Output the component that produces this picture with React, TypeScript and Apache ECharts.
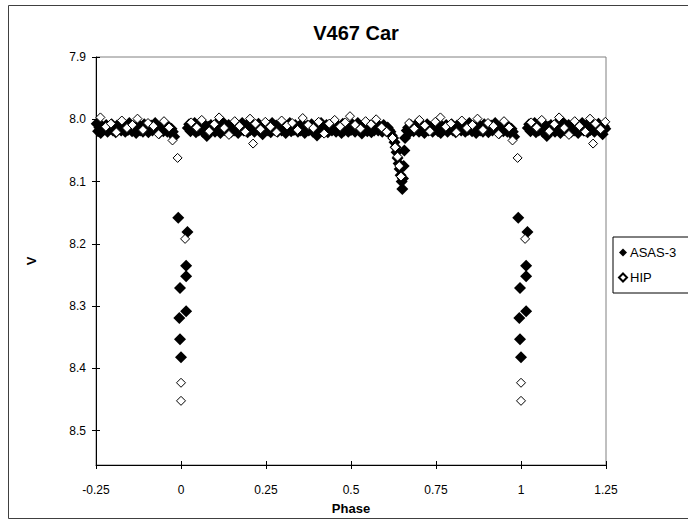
import React, { useEffect, useRef } from "react";
import * as echarts from "echarts";

const chartTitle = "V467 Car";
const xTitle = "Phase";
const yTitle = "V";
const seriesNames = ["ASAS-3", "HIP"];

// base phase (0..1) and V magnitude, ASAS-3
const asasPoints: [number, number][] = [
  [0.020, 8.014], [0.024, 8.008], [0.028, 8.019], [0.032, 8.011], [0.036, 8.016], [0.040, 8.006], [0.044, 8.021], [0.048, 8.013], [0.052, 8.018], [0.056, 8.010],
  [0.060, 8.015], [0.064, 8.020], [0.068, 8.008], [0.072, 8.014], [0.076, 8.027], [0.080, 8.012], [0.084, 8.018], [0.088, 8.009], [0.092, 8.017], [0.096, 8.013],
  [0.100, 8.020], [0.104, 8.007], [0.108, 8.015], [0.112, 8.011], [0.116, 8.022], [0.120, 8.013], [0.124, 8.005], [0.128, 8.017], [0.132, 8.014], [0.136, 8.019],
  [0.140, 8.009], [0.144, 8.015], [0.148, 8.020], [0.152, 8.011], [0.156, 8.018], [0.160, 8.008], [0.164, 8.013], [0.168, 8.022], [0.172, 8.012], [0.176, 8.016],
  [0.180, 8.006], [0.184, 8.018], [0.188, 8.014], [0.192, 8.010], [0.196, 8.021], [0.200, 8.013], [0.204, 8.017], [0.208, 8.008], [0.212, 8.015], [0.216, 8.020],
  [0.220, 8.011], [0.224, 8.016], [0.228, 8.007], [0.232, 8.019], [0.236, 8.013], [0.240, 8.024], [0.244, 8.011], [0.248, 8.015], [0.252, 8.009], [0.256, 8.018],
  [0.260, 8.014], [0.264, 8.021], [0.268, 8.006], [0.272, 8.013], [0.276, 8.017], [0.280, 8.010], [0.284, 8.020], [0.288, 8.015], [0.292, 8.008], [0.296, 8.018],
  [0.300, 8.012], [0.304, 8.016], [0.308, 8.022], [0.312, 8.011], [0.316, 8.014], [0.320, 8.006], [0.324, 8.019], [0.328, 8.013], [0.332, 8.017], [0.336, 8.009],
  [0.340, 8.015], [0.344, 8.020], [0.348, 8.011], [0.352, 8.018], [0.356, 8.007], [0.360, 8.015], [0.364, 8.022], [0.368, 8.013], [0.372, 8.010], [0.376, 8.018],
  [0.380, 8.014], [0.384, 8.008], [0.388, 8.020], [0.392, 8.012], [0.396, 8.016], [0.400, 8.026], [0.404, 8.011], [0.408, 8.017], [0.412, 8.006], [0.416, 8.015],
  [0.420, 8.019], [0.424, 8.013], [0.428, 8.009], [0.432, 8.021], [0.436, 8.015], [0.440, 8.011], [0.444, 8.018], [0.448, 8.008], [0.452, 8.014], [0.456, 8.020],
  [0.460, 8.010], [0.464, 8.016], [0.468, 8.013], [0.472, 8.022], [0.476, 8.007], [0.480, 8.018], [0.484, 8.015], [0.488, 8.011], [0.492, 8.020], [0.496, 8.013],
  [0.500, 8.017], [0.504, 8.008], [0.508, 8.015], [0.512, 8.020], [0.516, 8.012], [0.520, 8.006], [0.524, 8.018], [0.528, 8.014], [0.532, 8.023], [0.536, 8.011],
  [0.540, 8.016], [0.544, 8.008], [0.548, 8.019], [0.552, 8.013], [0.556, 8.010], [0.560, 8.021], [0.564, 8.015], [0.568, 8.018], [0.572, 8.007], [0.576, 8.013],
  [0.580, 8.018], [0.584, 8.011], [0.588, 8.015], [0.592, 8.020], [0.596, 8.009], [0.600, 8.014], [0.604, 8.019], [0.608, 8.013], [0.612, 8.017],
  [0.616, 8.020], [0.620, 8.026], [0.624, 8.030], [0.628, 8.037], [0.631, 8.045], [0.634, 8.053], [0.637, 8.062], [0.640, 8.071], [0.643, 8.080], [0.646, 8.090],
  [0.649, 8.100], [0.651, 8.112], [0.653, 8.095], [0.655, 8.075], [0.657, 8.050], [0.659, 8.030],
  [0.664, 8.018], [0.668, 8.013], [0.672, 8.021], [0.676, 8.009], [0.680, 8.015], [0.684, 8.019], [0.688, 8.011], [0.692, 8.016], [0.696, 8.006], [0.700, 8.020],
  [0.704, 8.013], [0.708, 8.017], [0.712, 8.010], [0.716, 8.022], [0.720, 8.014], [0.724, 8.008], [0.728, 8.018], [0.732, 8.012], [0.736, 8.015], [0.740, 8.020],
  [0.744, 8.011], [0.748, 8.016], [0.752, 8.007], [0.756, 8.019], [0.760, 8.013], [0.764, 8.022], [0.768, 8.011], [0.772, 8.017], [0.776, 8.015], [0.780, 8.009],
  [0.784, 8.020], [0.788, 8.013], [0.792, 8.015], [0.796, 8.008], [0.800, 8.018], [0.804, 8.014], [0.808, 8.021], [0.812, 8.010], [0.816, 8.016], [0.820, 8.012],
  [0.824, 8.018], [0.828, 8.008], [0.832, 8.015], [0.836, 8.020], [0.840, 8.011], [0.844, 8.017], [0.848, 8.006], [0.852, 8.014], [0.856, 8.019], [0.860, 8.011],
  [0.864, 8.015], [0.868, 8.022], [0.872, 8.013], [0.876, 8.009], [0.880, 8.018], [0.884, 8.013], [0.888, 8.020], [0.892, 8.008], [0.896, 8.016], [0.900, 8.012],
  [0.904, 8.021], [0.908, 8.014], [0.912, 8.010], [0.916, 8.018], [0.920, 8.015], [0.924, 8.006], [0.928, 8.017], [0.932, 8.013], [0.936, 8.022], [0.940, 8.011],
  [0.944, 8.016], [0.948, 8.019], [0.952, 8.008], [0.956, 8.014], [0.960, 8.020], [0.964, 8.012], [0.968, 8.018], [0.972, 8.015], [0.976, 8.020], [0.980, 8.028],
  [0.992, 8.158], [0.019, 8.181], [0.015, 8.235], [0.015, 8.252], [0.997, 8.271], [0.015, 8.308], [0.995, 8.319], [0.997, 8.353], [0.000, 8.382],
];

// base phase (0..1) and V magnitude, HIP
const hipPoints: [number, number][] = [
  [0.030, 8.005], [0.046, 8.013], [0.061, 8.001], [0.083, 8.019], [0.098, 8.008], [0.112, 7.997], [0.127, 8.014], [0.141, 8.025], [0.158, 8.003], [0.172, 8.011],
  [0.189, 8.020], [0.203, 7.999], [0.212, 8.039], [0.219, 8.007], [0.234, 8.016], [0.248, 8.004], [0.263, 8.012], [0.281, 8.021], [0.296, 8.002], [0.312, 8.010],
  [0.327, 8.006], [0.343, 8.017], [0.358, 7.998], [0.374, 8.009], [0.389, 8.014], [0.405, 8.004], [0.421, 8.023], [0.436, 8.007], [0.452, 8.001], [0.468, 8.012],
  [0.483, 8.005], [0.497, 7.995], [0.512, 8.009], [0.528, 8.015], [0.543, 8.003], [0.559, 8.008], [0.574, 8.000], [0.590, 8.013], [0.605, 8.020],
  [0.622, 8.030], [0.630, 8.045], [0.637, 8.060], [0.642, 8.075], [0.647, 8.092],
  [0.671, 8.006], [0.686, 8.015], [0.701, 8.001], [0.717, 8.010], [0.732, 8.019], [0.748, 8.004],
  [0.763, 7.997], [0.779, 8.012], [0.794, 8.007], [0.810, 8.021], [0.826, 8.002], [0.841, 8.014], [0.857, 8.009], [0.872, 7.999], [0.888, 8.017], [0.903, 8.006],
  [0.919, 8.011], [0.934, 8.024], [0.950, 8.003], [0.965, 8.013], [0.975, 8.034], [0.990, 8.062],
  [0.012, 8.192], [0.000, 8.423], [0.000, 8.452],
];

const xTicks = { min: -0.25, max: 1.25, interval: 0.25 };
const yTicks = { min: 7.9, max: 8.555, interval: 0.1 };

// phase-folded display: points are repeated one cycle earlier / later
function fold(points: [number, number][]) {
  const out: [number, number][] = [];
  for (const [p, m] of points) {
    out.push([p, m]);
    if (p >= 0.75) out.push([p - 1, m]);
    if (p <= 0.25) out.push([p + 1, m]);
  }
  return out;
}

export default function App() {
  const ref = useRef<HTMLDivElement>(null);
  useEffect(() => {
    if (!ref.current) return;
    const chart = echarts.init(ref.current, null, { renderer: "svg" });
    const font = "'Liberation Sans', Arial, sans-serif";
    const baseX = {
      type: "value" as const,
      min: xTicks.min,
      max: xTicks.max,
      interval: xTicks.interval,
      position: "bottom" as const,
      splitLine: { show: false },
    };
    const baseY = {
      type: "value" as const,
      min: yTicks.min,
      max: yTicks.max,
      interval: yTicks.interval,
      inverse: true,
      position: "left" as const,
      splitLine: { show: false },
    };
    chart.setOption({
      animation: false,
      backgroundColor: "#fff",
      title: {
        text: chartTitle,
        left: 351,
        textAlign: "center",
        top: 18,
        textStyle: { fontFamily: font, fontSize: 20, fontWeight: "bold", color: "#000" },
      },
      grid: {
        left: 96,
        right: 82,
        top: 57,
        bottom: 58,
        show: true,
        borderColor: "#808080",
        borderWidth: 1,
        backgroundColor: "transparent",
      },
      legend: {
        orient: "vertical",
        left: 613,
        top: 237,
        padding: [9, 40, 9, 5],
        itemGap: 12,
        itemWidth: 8,
        itemHeight: 8,
        borderColor: "#000",
        borderWidth: 1,
        textStyle: { fontFamily: font, fontSize: 13, color: "#000", padding: [0, 0, 0, -2] },
        data: [
          { name: seriesNames[0], icon: "diamond" },
          { name: seriesNames[1], icon: "diamond" },
        ],
      },
      xAxis: [
        {
          ...baseX,
          name: xTitle,
          nameLocation: "middle",
          nameGap: 37,
          nameTextStyle: { fontFamily: font, fontSize: 13, fontWeight: "bold", color: "#000" },
          axisLine: { show: true, onZero: false, lineStyle: { color: "#000", width: 1 } },
          axisTick: { show: true, inside: false, length: 4, lineStyle: { color: "#000" } },
          axisLabel: { fontFamily: font, fontSize: 12, color: "#000", margin: 19 },
        },
        {
          ...baseX,
          axisLine: { show: false, onZero: false },
          axisTick: { show: true, inside: true, length: 4, lineStyle: { color: "#000" } },
          axisLabel: { show: false },
        },
      ],
      yAxis: [
        {
          ...baseY,
          name: yTitle,
          nameLocation: "middle",
          nameGap: 58,
          nameTextStyle: { fontFamily: font, fontSize: 13, fontWeight: "bold", color: "#000" },
          axisLine: { show: true, onZero: false, lineStyle: { color: "#000", width: 1 } },
          axisTick: { show: true, inside: false, length: 4, lineStyle: { color: "#000" } },
          axisLabel: {
            fontFamily: font,
            fontSize: 12,
            color: "#000",
            margin: 10,
            showMaxLabel: false,
            formatter: (v: number) => v.toFixed(1),
          },
        },
        {
          ...baseY,
          axisLine: { show: false, onZero: false },
          axisTick: { show: true, inside: true, length: 4, lineStyle: { color: "#000" } },
          axisLabel: { show: false },
        },
      ],
      graphic: [
        {
          type: "rect",
          shape: { x: 8.5, y: 5.5, width: 720, height: 513 },
          style: { fill: "none", stroke: "#404040", lineWidth: 1 },
          silent: true,
        },
      ],
      series: [
        {
          name: seriesNames[0],
          type: "scatter",
          xAxisIndex: 0,
          yAxisIndex: 0,
          symbol: "diamond",
          symbolSize: 12,
          itemStyle: { color: "#000", opacity: 1 },
          data: fold(asasPoints),
        },
        {
          name: seriesNames[1],
          type: "scatter",
          xAxisIndex: 0,
          yAxisIndex: 0,
          symbol: "diamond",
          symbolSize: 9,
          itemStyle: { color: "#fff", borderColor: "#000", borderWidth: 1, opacity: 1 },
          data: fold(hipPoints),
        },
      ],
    });
    return () => chart.dispose();
  }, []);
  return (
    <div
      ref={ref}
      style={{ position: "absolute", left: 0, top: 0, width: 688, height: 523 }}
    />
  );
}
